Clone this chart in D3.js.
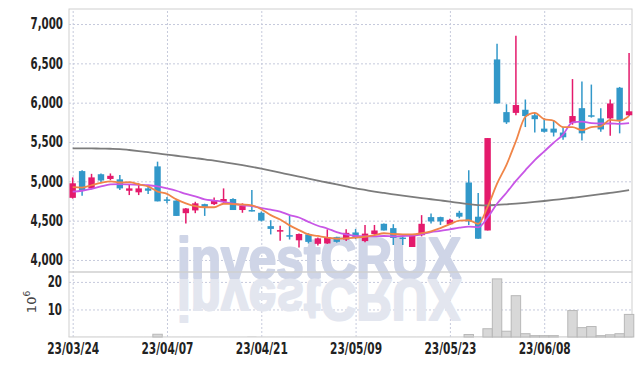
<!DOCTYPE html>
<html>
<head>
<meta charset="utf-8">
<script src="https://cdn.jsdelivr.net/npm/d3@7"></script>
<style>
  body { margin: 0; background: #fff; }
  svg { display: block; }
</style>
</head>
<body>
<script>
const width = 642
const height = 366

// trading days (KRX), yy/mm/dd
const dates = [
  '23/03/24','23/03/27','23/03/28','23/03/29','23/03/30','23/03/31','23/04/03','23/04/04','23/04/05','23/04/06',
  '23/04/07','23/04/10','23/04/11','23/04/12','23/04/13','23/04/14','23/04/17','23/04/18','23/04/19','23/04/20',
  '23/04/21','23/04/24','23/04/25','23/04/26','23/04/27','23/04/28','23/05/02','23/05/03','23/05/04','23/05/08',
  '23/05/09','23/05/10','23/05/11','23/05/12','23/05/15','23/05/16','23/05/17','23/05/18','23/05/19','23/05/22',
  '23/05/23','23/05/24','23/05/25','23/05/26','23/05/30','23/05/31','23/06/01','23/06/02','23/06/05','23/06/07',
  '23/06/08','23/06/09','23/06/12','23/06/13','23/06/14','23/06/15','23/06/16','23/06/19','23/06/20','23/06/21'
]

const open = [
  4790,5130,4910,5090,5030,5025,4880,4860,4910,5190,
  4770,4755,4595,4630,4710,4710,4740,4775,4635,4635,
  4600,4430,4360,4315,4250,4325,4205,4210,4290,4260,
  4350,4240,4330,4460,4405,4285,4165,4315,4545,4545,
  4455,4600,4985,4550,4375,6550,5880,5870,5910,5840,
  5670,5670,5620,5740,5930,5840,5800,5800,6190,5840
]
const high = [
  5050,5140,5095,5100,5100,5080,4955,4975,4930,5250,
  4800,4760,4660,4740,4715,4795,4910,4785,4720,4890,
  4615,4505,4435,4570,4335,4340,4285,4390,4295,4390,
  4395,4445,4445,4465,4455,4300,4330,4570,4590,4550,
  4525,4625,5140,4850,5550,6750,5980,6850,6040,5870,
  5800,5780,5690,6300,6270,6230,5930,6040,6200,6630
]
const low = [
  4780,4815,4900,4985,5015,4890,4825,4825,4840,4745,
  4720,4560,4465,4595,4560,4700,4720,4635,4600,4615,
  4490,4325,4245,4260,4160,4210,4185,4205,4220,4240,
  4265,4225,4320,4375,4190,4190,4165,4300,4465,4445,
  4450,4530,4445,4270,4375,5990,5730,5840,5690,5620,
  5620,5570,5530,5720,5520,5810,5630,5580,5610,5830
]
const close = [
  4975,4880,5050,5010,5070,4910,4910,4910,4880,4745,
  4755,4560,4655,4720,4665,4755,4775,4635,4690,4620,
  4500,4395,4380,4300,4330,4230,4275,4285,4230,4345,
  4280,4335,4375,4375,4280,4270,4325,4460,4490,4490,
  4510,4550,4490,4270,5550,5990,5750,5970,5830,5790,
  5630,5620,5560,5830,5610,5830,5660,5990,5770,5890
]

// moving averages as drawn
const ma5 = [
  4925,4920,4950,4980,5000,4985,4990,4960,4935,4870,
  4840,4770,4720,4685,4670,4670,4715,4710,4705,4695,
  4645,4570,4515,4440,4380,4325,4305,4285,4270,4275,
  4285,4295,4315,4340,4330,4325,4325,4340,4365,4405,
  4455,4500,4505,4460,4675,4970,5210,5510,5820,5870,
  5790,5770,5690,5690,5650,5690,5700,5780,5770,5830
]
const ma10 = [
  4870,4880,4905,4935,4960,4965,4960,4955,4950,4935,
  4910,4880,4840,4810,4770,4755,4740,4715,4695,4685,
  4660,4640,4615,4570,4540,4485,4435,4400,4355,4325,
  4305,4300,4300,4305,4300,4305,4310,4325,4355,4370,
  4390,4410,4425,4415,4540,4715,4855,5005,5140,5270,
  5380,5490,5595,5750,5760,5740,5735,5735,5730,5740
]
const ma60 = [
  5420,5420,5418,5416,5414,5410,5398,5385,5370,5355,
  5340,5325,5310,5295,5280,5262,5244,5226,5206,5184,
  5160,5135,5110,5085,5060,5035,5010,4985,4960,4935,
  4910,4890,4870,4852,4835,4818,4802,4787,4772,4757,
  4742,4725,4710,4698,4695,4700,4708,4717,4727,4738,
  4750,4763,4777,4791,4805,4820,4836,4853,4870,4888
]

// volume, millions of shares
const volume = [
  0.1,0.1,0.1,0.1,0.1,0.1,0.1,0.1,0.1,1.0,
  0.1,0.1,0.1,0.1,0.1,0.1,0.1,0.1,0.1,0.3,
  0.1,0.1,0.1,0.1,0.1,0.1,0.1,0.1,0.1,0.1,
  0.1,0.1,0.1,0.1,0.1,0.1,0.1,0.1,0.1,0.1,
  0.1,0.1,0.9,0.3,3.0,21.1,2.1,15.0,1.2,0.5,
  0.5,0.5,0.2,9.6,3.4,3.8,0.5,0.8,1.2,8.2
]

const priceTicks = [4000,4500,5000,5500,6000,6500,7000]
const volumeTicks = [10,20]
const dateTicks = [0,10,20,30,40,50]

const colors = {
  up: '#e41a6c',
  down: '#3298c9',
  ma5: '#f08548',
  ma10: '#c856e6',
  ma60: '#7c7c7c',
  grid: '#c6cadc',
  border: '#cfcfcf',
  volFill: '#d8d8d8',
  volStroke: '#b8b8b8',
  text: '#222',
  mark: '#cfd5e7',
  markShadow: '#e3e6ef'
}

const font = '"DejaVu Sans Condensed", "DejaVu Sans", sans-serif'

const plotLeft = 69, plotRight = 632, plotTop = 9, plotMid = 272, plotBottom = 337

const svg = d3.select('body')
  .append('svg')
  .attr('width', width)
  .attr('height', height)

const x = d3.scaleLinear().domain([-0.39, 59.31]).range([plotLeft, plotRight])
const y = d3.scaleLinear().domain([3847, 7191]).range([plotMid, plotTop])
const yVol = d3.scaleLinear().domain([0, 23.6]).range([plotBottom, plotMid])

const step = x(1) - x(0)
const bodyW = step * 0.68

// grid + labels, labels squeezed to look like a narrow face
const styleAxis = (g, size) => {
  g.select('.domain').remove()
  g.selectAll('.tick line')
    .attr('stroke', colors.grid)
    .attr('stroke-dasharray', '2,2')
  g.selectAll('.tick text')
    .attr('fill', colors.text)
    .attr('font-family', font)
    .attr('font-weight', 'bold')
    .attr('font-size', size)
    .attr('lengthAdjust', 'spacingAndGlyphs')
    .attr('textLength', function () { return this.getComputedTextLength() * 0.76 })
}

svg.append('g')
  .attr('transform', `translate(${plotLeft},0)`)
  .call(d3.axisLeft(y).tickValues(priceTicks).tickFormat(d3.format(',')).tickSize(-(plotRight - plotLeft)).tickPadding(6))
  .call(styleAxis, 15)

svg.append('g')
  .attr('transform', `translate(${plotLeft},0)`)
  .call(d3.axisLeft(yVol).tickValues(volumeTicks).tickSize(-(plotRight - plotLeft)).tickPadding(7))
  .call(styleAxis, 15)

svg.append('g')
  .attr('transform', `translate(0,${plotBottom})`)
  .call(d3.axisBottom(x).tickValues(dateTicks).tickFormat(i => dates[i]).tickSize(-(plotBottom - plotTop)).tickPadding(6))
  .call(styleAxis, 15.5)

// 10^6 unit label
svg.append('text')
  .attr('transform', 'translate(35.5,302) rotate(-90)')
  .attr('text-anchor', 'middle')
  .attr('font-family', '"DejaVu Sans", sans-serif')
  .attr('font-size', 13)
  .attr('fill', '#444')
  .text('10')
  .append('tspan')
  .attr('dy', -6)
  .attr('font-size', 9)
  .text('6')

// watermark + reflection
const markY = 278
const mark = g => g
  .attr('x', 319).attr('y', markY)
  .attr('text-anchor', 'middle')
  .attr('font-family', '"Liberation Sans", Arial, sans-serif')
  .attr('font-weight', 'bold')
  .attr('font-size', 58)
  .attr('textLength', 284)
  .attr('lengthAdjust', 'spacingAndGlyphs')
  .attr('stroke-width', 2.2)
  .attr('stroke-linejoin', 'round')
  .text('investCRUX')

svg.append('text')
  .call(mark)
  .attr('fill', colors.mark)
  .attr('stroke', colors.mark)

svg.append('text')
  .call(mark)
  .attr('transform', `translate(0,${2 * markY + 2}) scale(1,-1)`)
  .attr('fill', colors.markShadow)
  .attr('stroke', colors.markShadow)

// borders
svg.append('rect')
  .attr('x', plotLeft).attr('y', plotTop)
  .attr('width', plotRight - plotLeft).attr('height', plotMid - plotTop)
  .attr('fill', 'none').attr('stroke', colors.border)
svg.append('rect')
  .attr('x', plotLeft).attr('y', plotMid)
  .attr('width', plotRight - plotLeft).attr('height', plotBottom - plotMid)
  .attr('fill', 'none').attr('stroke', colors.border)

// volume bars
svg.append('g')
  .selectAll('rect')
  .data(volume)
  .enter().append('rect')
  .attr('x', (d, i) => x(i) - step / 2)
  .attr('width', step)
  .attr('y', d => yVol(d))
  .attr('height', d => yVol(0) - yVol(d))
  .attr('fill', colors.volFill)
  .attr('stroke', d => yVol(0) - yVol(d) > 1 ? colors.volStroke : 'none')

// candles
const candles = svg.append('g')
  .selectAll('g')
  .data(d3.range(dates.length))
  .enter().append('g')

candles.append('line')
  .attr('x1', i => x(i)).attr('x2', i => x(i))
  .attr('y1', i => y(high[i])).attr('y2', i => y(low[i]))
  .attr('stroke', i => close[i] >= open[i] ? colors.up : colors.down)
  .attr('stroke-width', 1.5)

candles.append('rect')
  .attr('x', i => x(i) - bodyW / 2)
  .attr('width', bodyW)
  .attr('y', i => y(Math.max(open[i], close[i])))
  .attr('height', i => Math.max(1.5, y(Math.min(open[i], close[i])) - y(Math.max(open[i], close[i]))))
  .attr('fill', i => close[i] >= open[i] ? colors.up : colors.down)

// moving averages
const line = d3.line()
  .x((d, i) => x(i))
  .y(d => y(d))
  .curve(d3.curveMonotoneX)

;[[ma60, colors.ma60], [ma10, colors.ma10], [ma5, colors.ma5]].forEach(([data, color]) => {
  svg.append('path')
    .datum(data)
    .attr('d', line)
    .attr('fill', 'none')
    .attr('stroke', color)
    .attr('stroke-width', 1.8)
})
</script>
</body>
</html>
